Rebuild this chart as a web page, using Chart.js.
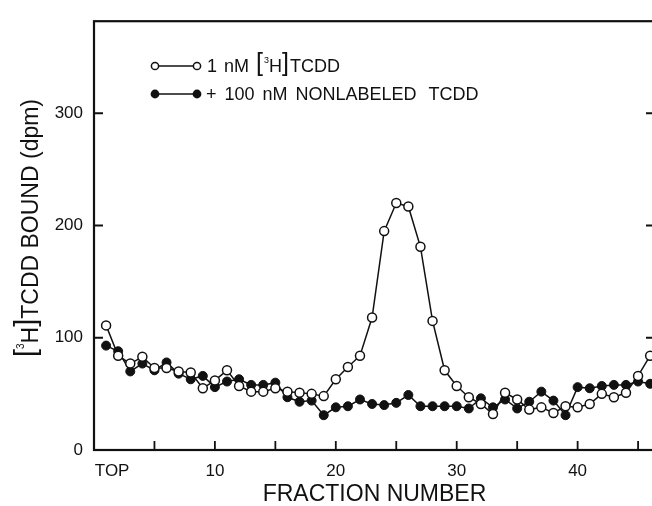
<!DOCTYPE html>
<html>
<head>
<meta charset="utf-8">
<script src="https://cdn.jsdelivr.net/npm/chart.js@4.4.1/dist/chart.umd.min.js"></script>
<style>
html,body{margin:0;padding:0;background:#fff;overflow:hidden;width:652px;height:506px;}
#wrap{width:662px;height:506px;}
</style>
</head>
<body>
<div id="wrap"><canvas id="c" width="662" height="506"></canvas></div>
<script>
// ---- data ----
const fractions = [1,2,3,4,5,6,7,8,9,10,11,12,13,14,15,16,17,18,19,20,21,22,23,24,25,26,27,28,29,30,31,32,33,34,35,36,37,38,39,40,41,42,43,44,45,46];
const labeledTCDD = [111,84,77,83,73,73,70,69,55,62,71,57,52,52,55,52,51,50,48,63,74,84,118,195,220,217,181,115,71,57,47,41,32,51,45,36,38,33,39,38,41,50,47,51,66,84];
const plusNonlabeled = [93,88,70,77,71,78,68,63,66,56,61,63,58,58,60,47,43,44,31,38,39,45,41,40,42,49,39,39,39,39,37,46,38,45,37,43,52,44,31,56,55,57,58,58,61,59];
const xTickValues = [1.5,10,20,30,40];
const xTickLabels = ["TOP","10","20","30","40"];
const yTickValues = [0,100,200,300];
const xTickMarks = [5,10,15,20,25,30,35,40,45];
const yTickMarks = [100,200,300];
const seriesNames = ["1 nM [3H]TCDD", "+ 100 nM NONLABELED TCDD"];

const FONT = "'Liberation Sans', Arial, sans-serif";
const INK = "#111";

function drawWords(ctx, words, x, y, size, gap, lastGap) {
  ctx.font = size + "px " + FONT;
  words.forEach((w, i) => {
    ctx.fillText(w, x, y);
    x += ctx.measureText(w).width + (i === words.length - 2 ? lastGap : gap);
  });
}

const decor = {
  id: 'decor',
  afterDraw(chart) {
    const ctx = chart.ctx, a = chart.chartArea;
    const xs = chart.scales.x, ys = chart.scales.y;
    ctx.save();
    ctx.strokeStyle = INK;
    ctx.lineWidth = 2.2;
    ctx.strokeRect(a.left, a.top, a.right - a.left, a.bottom - a.top);
    ctx.lineWidth = 1.8;
    ctx.beginPath();
    xTickMarks.forEach(v => {
      const px = xs.getPixelForValue(v);
      ctx.moveTo(px, a.bottom); ctx.lineTo(px, a.bottom - 9);
    });
    yTickMarks.forEach(v => {
      const py = ys.getPixelForValue(v);
      ctx.moveTo(a.left, py); ctx.lineTo(a.left + 9, py);
      ctx.moveTo(a.right, py); ctx.lineTo(a.right - 9, py);
    });
    ctx.stroke();

    // y-axis title, rotated, with large brackets and superscript 3
    ctx.fillStyle = INK;
    ctx.translate(38, 228);
    ctx.rotate(-Math.PI / 2);
    const parts = [
      {t: "[", f: "29px", dy: -3},
      {t: "3", f: "10px", dy: -14},
      {t: "H", f: "23px", dy: 0},
      {t: "]", f: "29px", dy: -3},
      {t: "TCDD BOUND (dpm)", f: "23px", dy: 0}
    ];
    let total = 0;
    parts.forEach(p => { ctx.font = p.f + " " + FONT; p.w = ctx.measureText(p.t).width; total += p.w; });
    let x = -total / 2;
    ctx.textBaseline = "alphabetic";
    parts.forEach(p => { ctx.font = p.f + " " + FONT; ctx.fillText(p.t, x, p.dy); x += p.w; });
    ctx.restore();

    // legend
    ctx.save();
    ctx.strokeStyle = INK; ctx.fillStyle = INK; ctx.lineWidth = 1.5;
    const rows = [
      {y: 66, open: true, baseY: 72},
      {y: 94, open: false, baseY: 100}
    ];
    rows.forEach(r => {
      ctx.beginPath(); ctx.moveTo(155, r.y); ctx.lineTo(197, r.y); ctx.stroke();
      [155, 197].forEach(cx => {
        ctx.beginPath(); ctx.arc(cx, r.y, r.open ? 3.6 : 4.4, 0, Math.PI * 2);
        if (r.open) { ctx.fillStyle = "#fff"; ctx.fill(); ctx.stroke(); ctx.fillStyle = INK; }
        else { ctx.fill(); }
      });
    });
    ctx.textBaseline = "alphabetic";
    const l1 = [
      {t: "1", f: "18px", dy: 0, after: 7},
      {t: "nM", f: "18px", dy: 0, after: 7},
      {t: "[", f: "25px", dy: -1, after: 1},
      {t: "3", f: "9px", dy: -9, after: 0},
      {t: "H", f: "18px", dy: 0, after: 0},
      {t: "]", f: "25px", dy: -1, after: 1},
      {t: "TCDD", f: "18px", dy: 0, after: 0}
    ];
    let lx = 207;
    l1.forEach(p => { ctx.font = p.f + " " + FONT; ctx.fillText(p.t, lx, rows[0].baseY + p.dy); lx += ctx.measureText(p.t).width + p.after; });
    drawWords(ctx, seriesNames[1].split(" "), 206, rows[1].baseY, 18, 8, 12);
    ctx.restore();
  }
};

new Chart(document.getElementById('c'), {
  type: 'line',
  data: {
    datasets: [
      {
        label: seriesNames[0],
        data: fractions.map((f, i) => ({x: f, y: labeledTCDD[i]})),
        borderColor: INK, borderWidth: 1.5,
        pointRadius: 4.5, pointBackgroundColor: "#fff", pointBorderColor: INK, pointBorderWidth: 1.5,
        tension: 0, clip: false
      },
      {
        label: seriesNames[1],
        data: fractions.map((f, i) => ({x: f, y: plusNonlabeled[i]})),
        borderColor: INK, borderWidth: 1.5,
        pointRadius: 4.5, pointBackgroundColor: INK, pointBorderColor: INK, pointBorderWidth: 1,
        tension: 0, clip: false
      }
    ]
  },
  options: {
    responsive: false,
    animation: false,
    layout: {padding: {top: 13, right: 7, left: 0, bottom: 0}},
    plugins: {legend: {display: false}, tooltip: {enabled: false}},
    scales: {
      x: {
        type: 'linear', min: 0, max: 46.4,
        grid: {display: false, drawTicks: false},
        border: {display: false},
        afterBuildTicks: s => { s.ticks = xTickValues.map(v => ({value: v})); },
        afterFit: s => { s.height = 56; },
        ticks: {
          padding: 11, color: INK, font: {family: FONT, size: 17}, maxRotation: 0, autoSkip: false,
          callback: v => { const i = xTickValues.indexOf(v); return i >= 0 ? xTickLabels[i] : ""; }
        },
        title: {display: true, text: "FRACTION NUMBER", color: INK, font: {family: FONT, size: 23, lineHeight: 1}, padding: {top: 0, bottom: 0}}
      },
      y: {
        type: 'linear', min: 0, max: 382,
        grid: {display: false, drawTicks: false},
        border: {display: false},
        afterBuildTicks: s => { s.ticks = yTickValues.map(v => ({value: v})); },
        afterFit: s => { s.width = 94; },
        ticks: {padding: 11, color: INK, font: {family: FONT, size: 17}}
      }
    }
  },
  plugins: [decor]
});
</script>
</body>
</html>
